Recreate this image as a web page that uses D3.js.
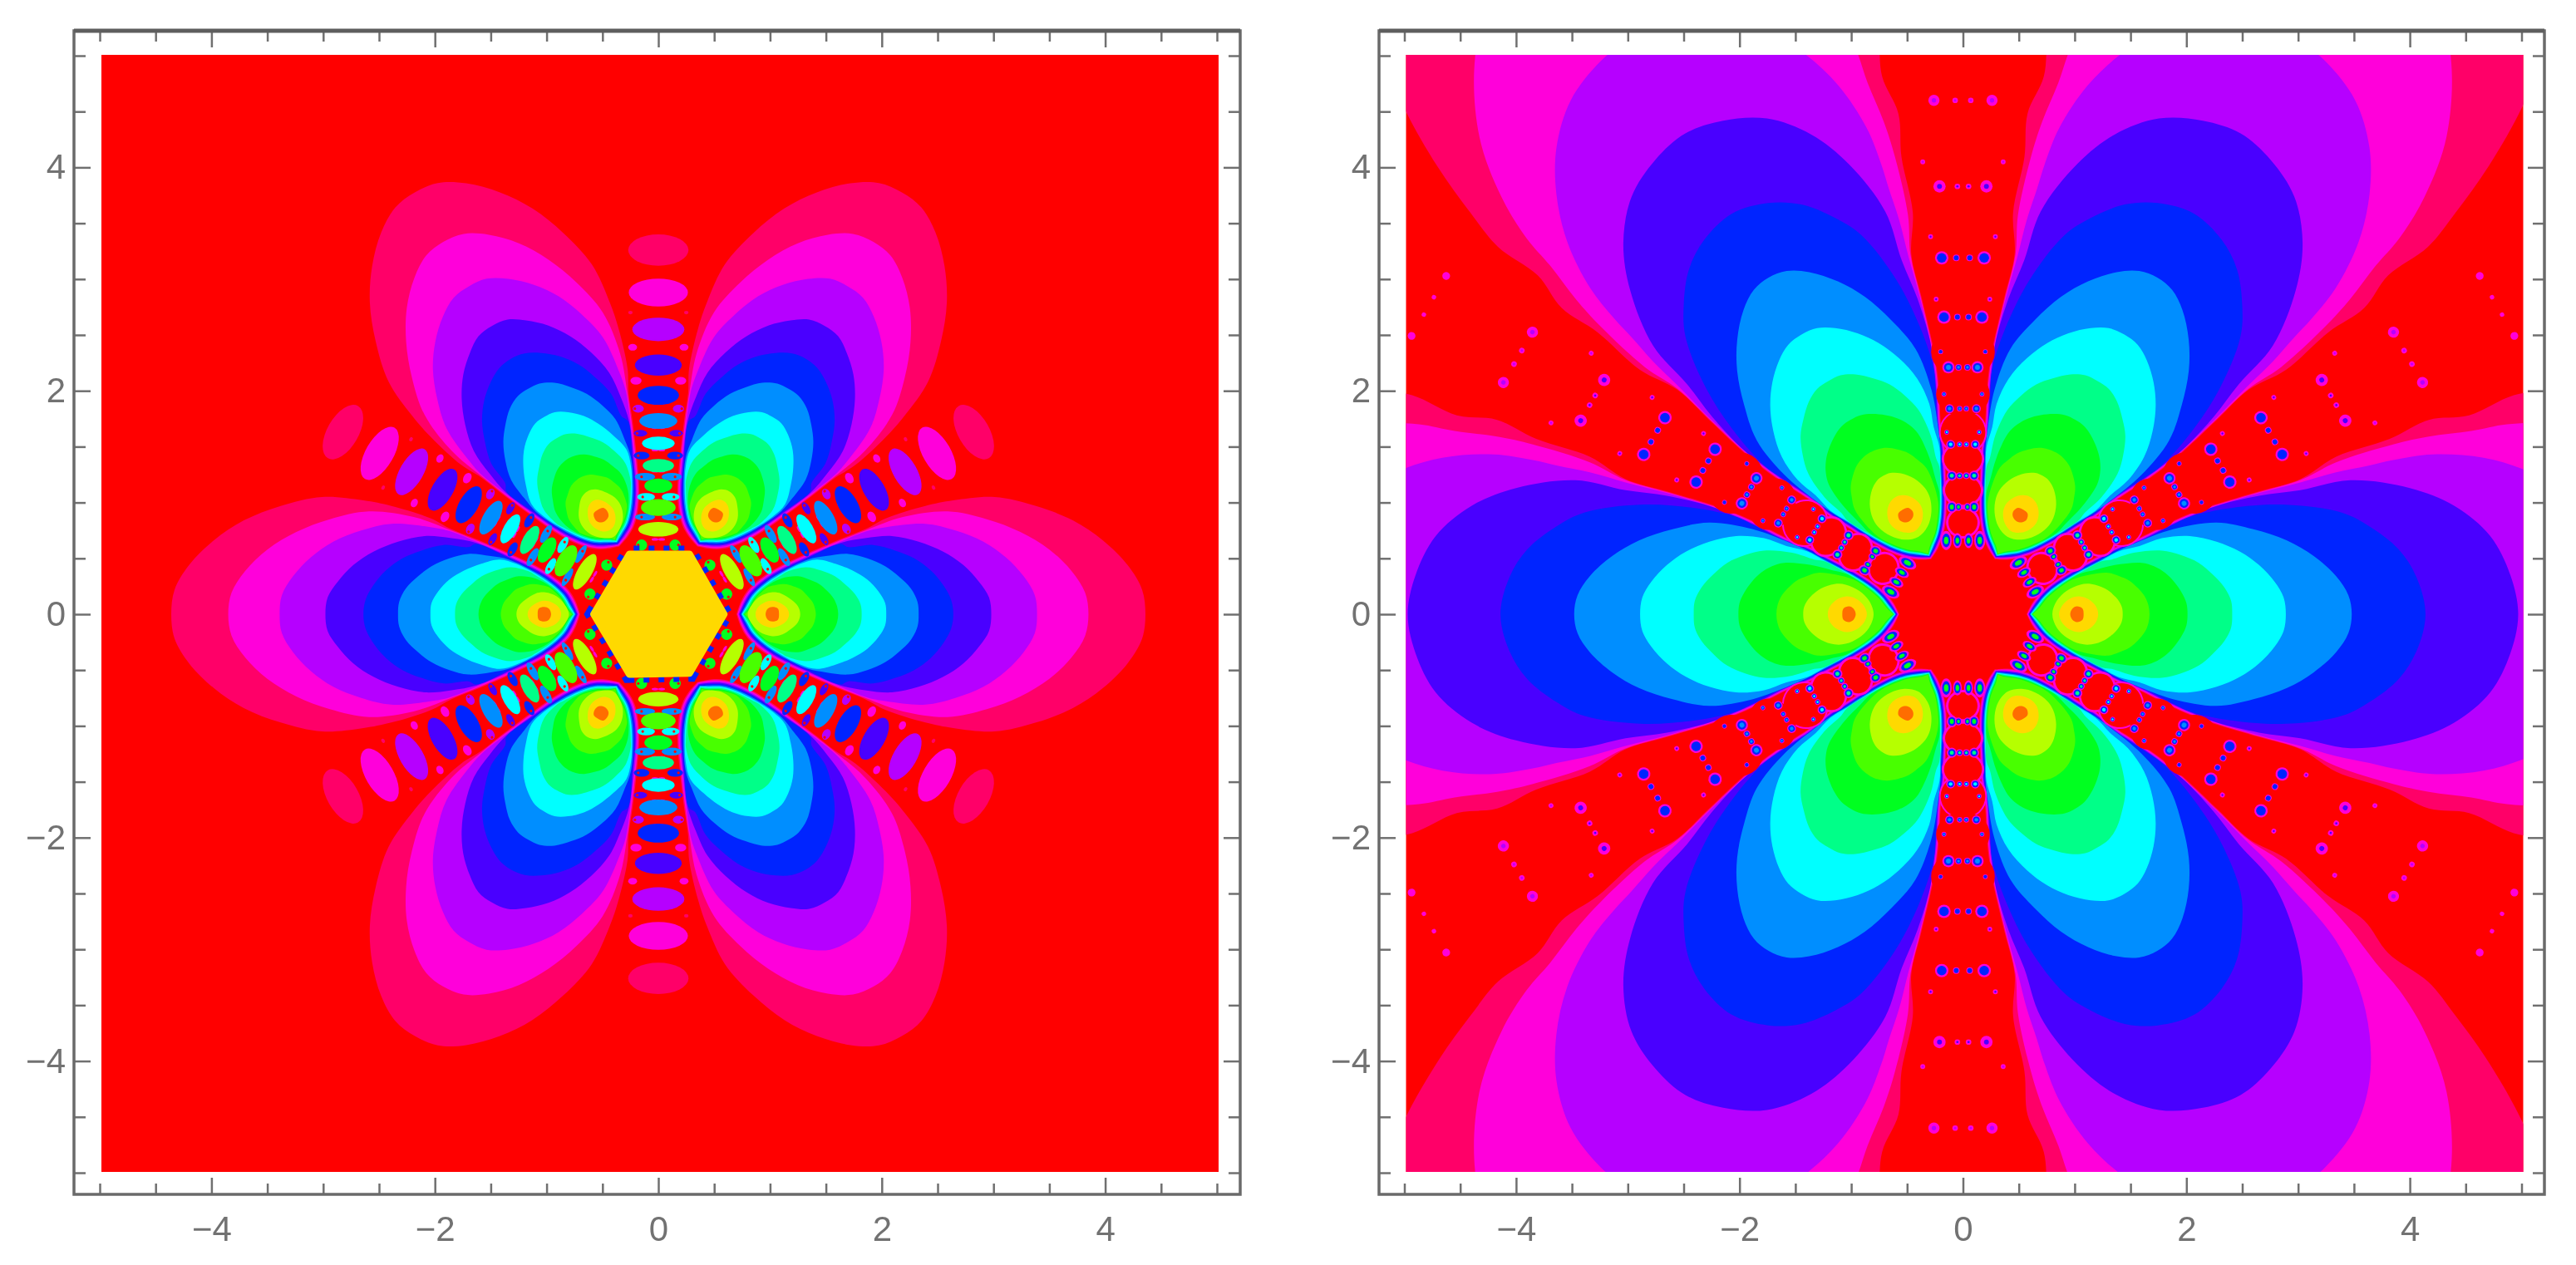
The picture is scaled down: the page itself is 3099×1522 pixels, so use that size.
<!DOCTYPE html>
<html>
<head>
<meta charset="utf-8">
<script src="https://cdn.jsdelivr.net/npm/d3@7"></script>
<style>
    body { margin: 0; background: #fff; }
    svg { display: block; filter: blur(0.7px); }
    .tick text { font-family: "Liberation Sans", sans-serif; font-size: 42px; fill: #727272; }
</style>
</head>
<body>
<div id="chart"></div>
<script>
// contour levels, outermost first
var rose = 0, magenta = 1, purple = 2, indigo = 3, blue = 4, azure = 5, cyan = 6,
    spring = 7, green = 8, chartreuse = 9, yellowGreen = 10, gold = 11, orange = 12;
var levelColors = ['#ff0068', '#ff00da', '#b600ff', '#4900ff', '#0024ff', '#008eff', '#00ffff',
    '#00ff88', '#00ff20', '#48ff00', '#b6ff00', '#ffd900', '#ff6d00'];

var majorTicks = [-4, -2, 0, 2, 4];
var minorTicks = [-5, -4.5, -3.5, -3, -2.5, -1.5, -1, -0.5, 0.5, 1, 1.5, 2.5, 3, 3.5, 4.5, 5];
var lobeAngles = [0, 60, 120, 180, 240, 300];
var rayAngles = [30, 90, 150, 210, 270, 330];

// left plot: upper half of the lobe on the +x axis
var leftWall = [[0.70, 0], [0.74, 0.115], [0.80, 0.215], [0.90, 0.31], [1.05, 0.41], [1.30, 0.53], [1.60, 0.66], [1.85, 0.76]];
var leftRose = [[2.04, 0.86], [2.39, 0.97], [2.64, 1.02], [3.01, 1.05], [3.38, 0.97], [3.71, 0.84], [3.98, 0.66], [4.20, 0.44], [4.33, 0.22], [4.36, 0]];
var leftMagenta = [[2.19, 0.87], [2.59, 0.92], [2.94, 0.85], [3.24, 0.736], [3.50, 0.579], [3.70, 0.385], [3.82, 0.193], [3.85, 0]];
var leftPurple = [[2.04, 0.78], [2.39, 0.81], [2.66, 0.75], [2.91, 0.65], [3.11, 0.51], [3.27, 0.34], [3.37, 0.17], [3.39, 0]];
var leftIndigo = [[1.85, 0.68], [2.09, 0.70], [2.33, 0.65], [2.55, 0.56], [2.73, 0.44], [2.87, 0.29], [2.96, 0.15], [2.98, 0]];
var leftBlue = [[1.70, 0.60], [1.92, 0.62], [2.12, 0.57], [2.29, 0.50], [2.44, 0.39], [2.55, 0.26], [2.62, 0.13], [2.64, 0]];
var leftAzure = [[1.50, 0.52], [1.70, 0.54], [1.87, 0.50], [2.03, 0.43], [2.15, 0.34], [2.26, 0.23], [2.32, 0.11], [2.33, 0]];
var leftCyan = [[1.27, 0.45], [1.42, 0.49], [1.59, 0.45], [1.74, 0.39], [1.87, 0.31], [1.97, 0.205], [2.03, 0.10], [2.04, 0]];
var leftSpring = [[1.15, 0.38], [1.32, 0.42], [1.46, 0.39], [1.58, 0.34], [1.68, 0.26], [1.76, 0.18], [1.81, 0.09], [1.82, 0]];
var leftGreen = [[1.10, 0.32], [1.25, 0.34], [1.35, 0.31], [1.44, 0.27], [1.51, 0.21], [1.57, 0.14], [1.60, 0.07], [1.61, 0]];
var leftChartreuse = [[1.0, 0.25], [1.13, 0.27], [1.21, 0.25], [1.28, 0.22], [1.33, 0.17], [1.38, 0.11], [1.40, 0.06], [1.41, 0]];
var leftYellowGreen = [[0.80, 0], [0.84, 0.09], [0.91, 0.16], [1.01, 0.195], [1.10, 0.185], [1.19, 0.13], [1.25, 0.07], [1.27, 0]];
var leftGold = [[0.87, 0], [0.89, 0.06], [0.95, 0.105], [1.02, 0.12], [1.09, 0.10], [1.15, 0.055], [1.17, 0]];
var leftOrange = [[0.96, 0], [0.98, 0.05], [1.02, 0.065], [1.07, 0.05], [1.08, 0]];

var leftHexagon = [[0.59, 0], [0.28, 0.54], [-0.26, 0.54], [-0.58, 0], [-0.26, -0.54], [0.28, -0.53]];

// beads along each 30 degree ray
var beadRho = [0.76, 0.955, 1.15, 1.33, 1.53, 1.73, 1.96, 2.23, 2.55, 2.88, 3.26];
var beadLong = [0.18, 0.155, 0.125, 0.14, 0.146, 0.17, 0.185, 0.21, 0.233, 0.265, 0.27];
var beadShort = [0.065, 0.075, 0.065, 0.06, 0.06, 0.07, 0.085, 0.095, 0.105, 0.125, 0.14];
var beadLevel = [yellowGreen, chartreuse, green, spring, cyan, azure, blue, indigo, purple, magenta, rose];

// smaller patches on both sides of the gaps between beads
var flankRho = [0.62, 0.87, 1.05, 1.23, 1.42, 1.62, 1.84, 2.09, 2.39, 2.7];
var flankOff = [0.15, 0.12, 0.11, 0.12, 0.15, 0.16, 0.18, 0.20, 0.23, 0.25];
var flankLong = [0.05, 0.09, 0.08, 0.09, 0.07, 0.06, 0.05, 0.05, 0.04, 0.02];
var flankShort = [0.05, 0.03, 0.035, 0.035, 0.035, 0.03, 0.035, 0.035, 0.03, 0.015];
var flankLevel = [green, azure, cyan, azure, blue, indigo, purple, magenta, magenta, rose];

// right plot
var rightWall = [[0.57, 0], [0.62, 0.10], [0.70, 0.20], [0.82, 0.30], [1.0, 0.41], [1.21, 0.52], [1.36, 0.60], [1.55, 0.67], [1.85, 0.82], [2.03, 0.90], [2.25, 0.98], [2.65, 1.10], [3.02, 1.21], [3.34, 1.41]];
var rightRose = [[3.82, 1.57], [4.17, 1.74], [4.53, 1.78], [4.93, 1.96], [5.31, 2.02], [5.83, 2.07], [6.5, 2.06], [7.5, 1.9], [8.6, 0]];
var rightMagenta = [[3.34, 1.36], [3.85, 1.52], [4.17, 1.59], [4.55, 1.64], [4.87, 1.70], [5.30, 1.71], [5.87, 1.61], [6.50, 1.29], [7.0, 0.8], [7.2, 0]];
var rightPurple = [[3.02, 1.18], [3.34, 1.27], [3.63, 1.33], [3.85, 1.38], [4.20, 1.43], [4.66, 1.40], [5.08, 1.27], [5.44, 1.06], [5.74, 0.74], [5.91, 0.33], [5.95, 0]];
var rightIndigo = [[2.27, 0.97], [2.65, 1.06], [3.02, 1.11], [3.47, 1.20], [4.0, 1.13], [4.40, 0.97], [4.72, 0.70], [4.90, 0.35], [4.97, 0]];
var rightBlue = [[2.03, 0.87], [2.40, 0.95], [2.89, 0.98], [3.39, 0.91], [3.64, 0.785], [3.90, 0.58], [4.06, 0.33], [4.14, 0]];
var rightAzure = [[1.55, 0.64], [1.88, 0.76], [2.27, 0.82], [2.60, 0.76], [2.90, 0.66], [3.14, 0.52], [3.34, 0.34], [3.45, 0.17], [3.48, 0]];
var rightCyan = [[1.58, 0.61], [1.78, 0.68], [2.03, 0.70], [2.27, 0.65], [2.48, 0.56], [2.65, 0.44], [2.79, 0.29], [2.87, 0.15], [2.89, 0]];
var rightSpring = [[1.33, 0.49], [1.53, 0.55], [1.78, 0.57], [1.95, 0.53], [2.11, 0.46], [2.23, 0.36], [2.34, 0.24], [2.40, 0.12], [2.41, 0]];
var rightGreen = [[1.16, 0.39], [1.36, 0.44], [1.60, 0.46], [1.71, 0.43], [1.81, 0.37], [1.89, 0.29], [1.96, 0.19], [2.0, 0.10], [2.01, 0]];
var rightChartreuse = [[0.98, 0.31], [1.14, 0.355], [1.30, 0.37], [1.40, 0.34], [1.49, 0.30], [1.57, 0.23], [1.63, 0.155], [1.66, 0.08], [1.67, 0]];
var rightYellowGreen = [[0.80, 0], [0.84, 0.12], [0.93, 0.21], [1.05, 0.265], [1.15, 0.27], [1.27, 0.23], [1.37, 0.15], [1.42, 0.07], [1.43, 0]];
var rightGold = [[0.86, 0], [0.89, 0.08], [0.96, 0.14], [1.04, 0.16], [1.13, 0.13], [1.19, 0.07], [1.21, 0]];
var rightOrange = [[0.96, 0], [0.98, 0.05], [1.02, 0.07], [1.07, 0.05], [1.08, 0]];

var rightHexagon = [[0.48, 0], [0.26, 0.46], [-0.27, 0.46], [-0.47, 0], [-0.27, -0.44], [0.26, -0.44]];

// red bulges of the right plot's chains
var blobRho = [0.82, 1.11, 1.39, 1.63, 1.97, 2.35, 2.82];
var blobWide = [0.13, 0.16, 0.17, 0.20, 0.24, 0.285, 0.33];
var blobDeep = [0.12, 0.13, 0.14, 0.19, 0.20, 0.24, 0.28];
var blobRim = [0.022, 0.022, 0.02, 0.015, 0, 0, 0];

// rows of small spots inside the red chains, one row per rho, mirrored across the ray
var rowRho = [0.66, 0.96, 1.24, 1.52, 1.84, 2.21, 2.66, 3.19, 3.83, 4.6, 5.52];
var rowOuterOff = [0.15, 0.10, 0.10, 0.11, 0.12, 0.13, 0.17, 0.19, 0.21, 0.26, 0.31];
var rowInnerOff = [0.05, 0.04, 0.03, 0.03, 0.03, 0.04, 0.05, 0.06, 0.05, 0.07, 0.09];
var rowOuterR = [0.05, 0.045, 0.045, 0.04, 0.04, 0.055, 0.06, 0.06, 0.055, 0.05, 0.035];
var rowInnerR = [0.04, 0.03, 0.03, 0.025, 0.025, 0.03, 0.03, 0.03, 0.025, 0.025, 0.02];
var rowStretch = [1.7, 1.2, 1, 1, 1, 1, 1, 1, 1, 1, 1];
var rowLevel = [green, green, spring, cyan, azure, azure, blue, blue, indigo, purple, magenta];

var sideRho = [1.63, 1.97, 2.35, 2.82, 3.38, 4.05];
var sideOff = [0.145, 0.17, 0.20, 0.24, 0.29, 0.36];
var sideLevel = [cyan, azure, blue, indigo, indigo, purple];

var openCurve = d3.line().curve(d3.curveCatmullRom.alpha(0.5));
var closedCurve = d3.line().curve(d3.curveCatmullRomClosed.alpha(0.5));

// wall points under the start of the level's own points, then the points, then the mirror
function lobeOutline(wall, own, level, step) {
    var inset = step * level;
    var upper = wall
        .filter(function (p) { return p[0] < own[0][0] - 0.05; })
        .map(function (p) { return [p[0] + inset, Math.max(p[1] - inset, 0)]; })
        .concat(own);
    var lower = upper.slice(1, -1).reverse().map(function (p) { return [p[0], -p[1]]; });
    return upper.concat(lower);
}

function rotate(p, angle) {
    var a = angle * Math.PI / 180;
    return [p[0] * Math.cos(a) - p[1] * Math.sin(a), p[0] * Math.sin(a) + p[1] * Math.cos(a)];
}

var svg = d3.select('#chart').append('svg')
    .attr('width', 3099)
    .attr('height', 1522);

function drawPanel(id, xRange, frameX, lobes) {
    var x = d3.scaleLinear().domain([-5, 5]).range(xRange);
    var y = d3.scaleLinear().domain([-5, 5]).range([1411, 67]);
    var unit = x(1) - x(0);
    var frame = {left: frameX[0], right: frameX[1], top: 37, bottom: 1437};

    svg.append('clipPath').attr('id', id)
        .append('rect')
        .attr('x', x(-5) + 2)
        .attr('y', y(5) - 1)
        .attr('width', x(5) - x(-5))
        .attr('height', y(-5) - y(5));

    var g = svg.append('g');
    var plot = g.append('g').attr('clip-path', 'url(#' + id + ')');

    plot.append('rect')
        .attr('x', x(-5))
        .attr('y', y(5) - 2)
        .attr('width', x(5) - x(-5) + 4)
        .attr('height', y(-5) - y(5) + 4)
        .attr('fill', '#ff0000');

    var place = function (p) { return [x(p[0]), y(p[1])]; };

    lobes.forEach(function (lobe) {
        lobeAngles.forEach(function (angle) {
            var pts = lobe.outline.map(function (p) { return place(rotate(p, angle)); });
            plot.append('path')
                .attr('d', lobe.closed ? closedCurve(pts) : openCurve(pts.concat([pts[0]])))
                .attr('fill', levelColors[lobe.level]);
        });
    });

    // helper for anything placed along a ray: rho along it, off across it
    function spot(angle, rho, off, radial, across, color) {
        var c = place(rotate([rho, off], angle));
        plot.append('ellipse')
            .attr('cx', c[0])
            .attr('cy', c[1])
            .attr('rx', radial * unit)
            .attr('ry', across * unit)
            .attr('transform', 'rotate(' + (-angle) + ',' + c[0] + ',' + c[1] + ')')
            .attr('fill', color);
    }

    return {x: x, y: y, frame: frame, g: g, plot: plot, place: place, spot: spot};
}

function drawAxes(p) {
    var f = p.frame;
    var fmt = d3.format('d');
    var bottom = p.g.append('g').attr('transform', 'translate(0,' + f.bottom + ')');
    var top = p.g.append('g').attr('transform', 'translate(0,' + f.top + ')');
    var left = p.g.append('g').attr('transform', 'translate(' + f.left + ',0)');
    var right = p.g.append('g').attr('transform', 'translate(' + f.right + ',0)');

    bottom.call(d3.axisBottom(p.x).tickValues(majorTicks).tickSize(-20).tickPadding(26).tickFormat(fmt));
    bottom.append('g').call(d3.axisBottom(p.x).tickValues(minorTicks).tickSize(-13).tickFormat(''));
    top.call(d3.axisTop(p.x).tickValues(majorTicks).tickSize(-20).tickFormat(''));
    top.append('g').call(d3.axisTop(p.x).tickValues(minorTicks).tickSize(-13).tickFormat(''));
    left.call(d3.axisLeft(p.y).tickValues(majorTicks).tickSize(-20).tickPadding(10).tickFormat(fmt));
    left.append('g').call(d3.axisLeft(p.y).tickValues(minorTicks).tickSize(-14).tickFormat(''));
    right.call(d3.axisRight(p.y).tickValues(majorTicks).tickSize(-20).tickFormat(''));
    right.append('g').call(d3.axisRight(p.y).tickValues(minorTicks).tickSize(-14).tickFormat(''));

    p.g.selectAll('.domain').remove();
    p.g.selectAll('.tick line').attr('stroke', '#707070').attr('stroke-width', 2.5);

    p.g.append('rect')
        .attr('x', f.left)
        .attr('y', f.top)
        .attr('width', f.right - f.left)
        .attr('height', f.bottom - f.top)
        .attr('fill', 'none')
        .attr('stroke', '#6a6a6a')
        .attr('stroke-width', 3.5);
    p.g.append('line')
        .attr('x1', f.left).attr('x2', f.right)
        .attr('y1', f.top).attr('y2', f.top)
        .attr('stroke', '#5e5e5e')
        .attr('stroke-width', 5);
}

function buildLobes(wall, lists, closedLists, step) {
    return lists.map(function (own, i) {
        return {level: i, closed: false, outline: lobeOutline(wall, own, i, step)};
    }).concat(closedLists.map(function (own, i) {
        return {level: yellowGreen + i, closed: true, outline: lobeOutline([], own, 0, 0)};
    }));
}

// left plot
var leftLobes = buildLobes(leftWall,
    [leftRose, leftMagenta, leftPurple, leftIndigo, leftBlue, leftAzure, leftCyan, leftSpring, leftGreen, leftChartreuse],
    [leftYellowGreen, leftGold, leftOrange], 0.008);

var p1 = drawPanel('clip-left', [120, 1464], [89, 1492], leftLobes);

rayAngles.forEach(function (angle) {
    flankRho.forEach(function (rho, i) {
        [-1, 1].forEach(function (side) {
            p1.spot(angle, rho, side * flankOff[i], flankShort[i], flankLong[i], levelColors[flankLevel[i]]);
            if (i < 7) {
                p1.spot(angle, rho, side * (flankOff[i] + 0.03), 0.012, 0.012, '#ff0000');
                p1.spot(angle, rho + 0.05, side * 0.03, 0.012, 0.03, levelColors[magenta]);
            }
        });
    });
    beadRho.forEach(function (rho, i) {
        p1.spot(angle, rho, 0, beadShort[i], beadLong[i], levelColors[beadLevel[i]]);
    });
});

// mottled rim round the hexagon
p1.plot.append('path')
    .attr('d', d3.line().curve(d3.curveLinearClosed)(leftHexagon.map(p1.place)))
    .attr('fill', 'none')
    .attr('stroke', levelColors[blue])
    .attr('stroke-width', 20)
    .attr('stroke-dasharray', '7 11');
p1.plot.append('path')
    .attr('d', d3.line().curve(d3.curveLinearClosed)(leftHexagon.map(p1.place)))
    .attr('fill', levelColors[gold])
    .attr('stroke', levelColors[gold])
    .attr('stroke-width', 8)
    .attr('stroke-linejoin', 'round');

drawAxes(p1);

// right plot
var rightLobes = buildLobes(rightWall,
    [rightRose, rightMagenta, rightPurple, rightIndigo, rightBlue, rightAzure, rightCyan, rightSpring, rightGreen, rightChartreuse],
    [rightYellowGreen, rightGold, rightOrange], 0.006);

var p2 = drawPanel('clip-right', [1689.5, 3033.5], [1659, 3061], rightLobes);

// rims first, then the red fills, so the rims only show outside the chain
rayAngles.forEach(function (angle) {
    blobRho.forEach(function (rho, i) {
        if (blobRim[i] == 0) return;
        p2.spot(angle, rho, 0, blobDeep[i] + blobRim[i], blobWide[i] + blobRim[i], levelColors[magenta]);
    });
});
rayAngles.forEach(function (angle) {
    blobRho.forEach(function (rho, i) {
        p2.spot(angle, rho, 0, blobDeep[i], blobWide[i], '#ff0000');
    });
});

function ringSpot(angle, rho, off, r, stretch, level) {
    p2.spot(angle, rho, off, r * stretch, r, levelColors[magenta]);
    if (level >= blue) {
        p2.spot(angle, rho, off, r * stretch * 0.72, r * 0.72, levelColors[blue]);
    }
    p2.spot(angle, rho, off, r * stretch * 0.4, r * 0.4, levelColors[level]);
}

rayAngles.forEach(function (angle) {
    rowRho.forEach(function (rho, i) {
        [-1, 1].forEach(function (side) {
            ringSpot(angle, rho, side * rowOuterOff[i], rowOuterR[i], rowStretch[i], rowLevel[i]);
            ringSpot(angle, rho, side * rowInnerOff[i], rowInnerR[i], rowStretch[i], rowLevel[i]);
        });
    });
    sideRho.forEach(function (rho, i) {
        [-1, 1].forEach(function (side) {
            ringSpot(angle, rho, side * sideOff[i], 0.022, 1, sideLevel[i]);
        });
    });
});

p2.plot.append('path')
    .attr('d', d3.line().curve(d3.curveLinearClosed)(rightHexagon.map(p2.place)))
    .attr('fill', '#ff0000')
    .attr('stroke', '#ff0000')
    .attr('stroke-width', 8)
    .attr('stroke-linejoin', 'round');

drawAxes(p2);
</script>
</body>
</html>
